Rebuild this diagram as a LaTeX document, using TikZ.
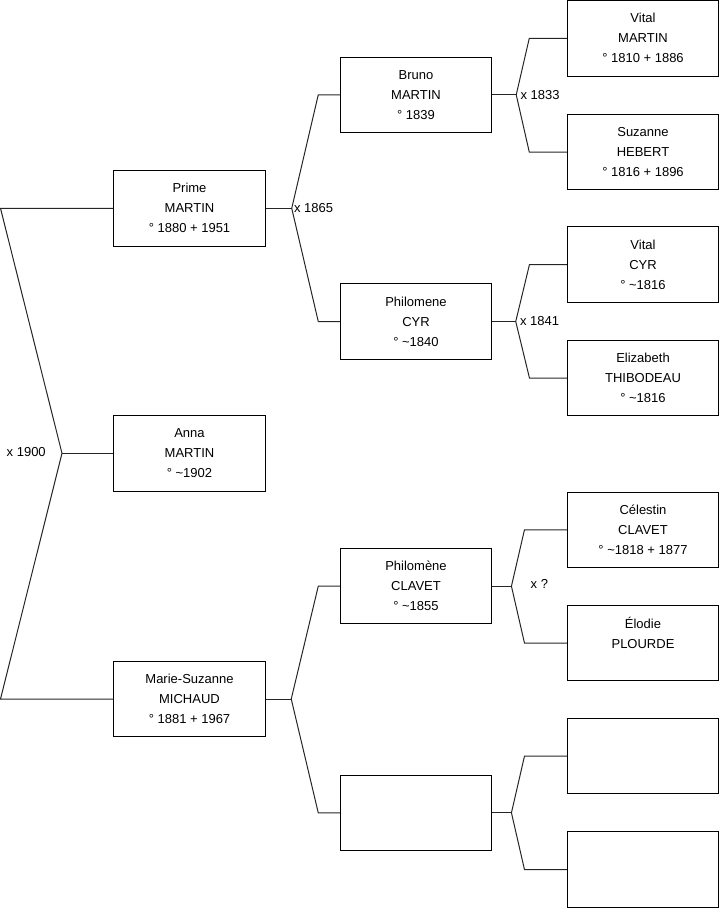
\documentclass[tikz,border=0pt]{standalone}
\usepackage{fontspec}
\setmainfont{Liberation Sans}
\usetikzlibrary{calc}

\begin{document}
\begin{tikzpicture}[x=0.75pt, y=-0.75pt]
    % Define colours
    \definecolor{borderColour}{HTML}{000000}
    \definecolor{lineColour}{HTML}{262626}

    % Macros for the columns of the tree (x of the box centres)
    \def\childX{189.5} % X part of the child column
    \def\parentX{416} % X part of the parents column
    \def\grandX{643} % X part of the grandparents column

    % Styles for the boxes and the family lines
    \tikzset{
        person/.style={draw=borderColour, line width=0.75pt, rectangle,
            minimum width=113.6pt, minimum height=56.6pt, inner sep=0pt,
            align=center, font=\fontsize{9.75pt}{15pt}\selectfont,
            execute at end node=\vspace{2.5pt}},
        family/.style={draw=lineColour, line width=0.75pt},
        union/.style={inner sep=0pt, font=\fontsize{9.75pt}{11pt}\selectfont}
    }

    % Fix the size of the picture
    \useasboundingbox (0,0) rectangle (719,908);

    % The children
    \node[person] (prime) at (\childX,208.3) {Prime\\MARTIN\\° 1880 + 1951};
    \node[person] (anna) at (\childX,453.3) {Anna\\MARTIN\\° \textasciitilde 1902};
    \node[person] (marie) at (\childX,699) {Marie-Suzanne\\MICHAUD\\° 1881 + 1967};

    % The parents
    \node[person] (bruno) at (\parentX,94.8) {Bruno\\MARTIN\\° 1839};
    \node[person] (philomeneCyr) at (\parentX,321.5) {Philomene\\CYR\\° \textasciitilde 1840};
    \node[person] (philomeneClavet) at (\parentX,586.2) {Philomène\\CLAVET\\° \textasciitilde 1855};
    \node[person] (unknownParent) at (\parentX,812.8) {};

    % The grandparents
    \node[person] (vitalMartin) at (\grandX,38.3) {Vital\\MARTIN\\° 1810 + 1886};
    \node[person] (suzanne) at (\grandX,152) {Suzanne\\HEBERT\\° 1816 + 1896};
    \node[person] (vitalCyr) at (\grandX,264.5) {Vital\\CYR\\° \textasciitilde 1816};
    \node[person] (elizabeth) at (\grandX,378) {Elizabeth\\THIBODEAU\\° \textasciitilde 1816};
    \node[person] (celestin) at (\grandX,529.8) {Célestin\\CLAVET\\° \textasciitilde 1818 + 1877};
    \node[person] (elodie) at (\grandX,643) {Élodie\\PLOURDE\\\mbox{}};
    \node[person] (unknownA) at (\grandX,756.2) {};
    \node[person] (unknownB) at (\grandX,869.5) {};

    % The couple on the left, with the child in between
    \coordinate (leftTop) at (0.5,208.3);
    \coordinate (leftBottom) at (0.5,699);
    \coordinate (annaJoin) at (62,453.3);
    \draw[family] (prime.west) -- (leftTop) -- (annaJoin) -- (leftBottom) -- (marie.west);
    \draw[family] (annaJoin) -- (anna.west);

    % Forks from each child to its two parents
    \foreach \child/\father/\mother/\gap/\stub in {
        prime/bruno/philomeneCyr/26/21.5,
        marie/philomeneClavet/unknownParent/25.5/21.5,
        bruno/vitalMartin/suzanne/24/37.5,
        philomeneCyr/vitalCyr/elizabeth/23.5/37.3,
        philomeneClavet/celestin/elodie/19.2/42.3,
        unknownParent/unknownA/unknownB/19.2/42.3}
    {
        \coordinate (\child Join) at ($(\child.east)+(\gap,0)$);
        \draw[family] (\father.west) -- ($(\father.west)+(-\stub,0)$) -- (\child Join)
            -- ($(\mother.west)+(-\stub,0)$) -- (\mother.west);
        \draw[family] (\child.east) -- (\child Join);
    }

    % Marriage labels
    \node[union, anchor=east] (weddingA) at ($(annaJoin)+(-16,-1.5)$) {x 1900};
    \node[union, anchor=west] (weddingB) at ($(primeJoin)+(2,0)$) {x 1865};
    \node[union, anchor=west] (weddingC) at ($(brunoJoin)+(4,0)$) {x 1833};
    \node[union, anchor=west] (weddingD) at ($(philomeneCyrJoin)+(4,0)$) {x 1841};
    \node[union, anchor=west] (weddingE) at ($(philomeneClavetJoin)+(19,-2.5)$) {x ?};

\end{tikzpicture}
\end{document}
